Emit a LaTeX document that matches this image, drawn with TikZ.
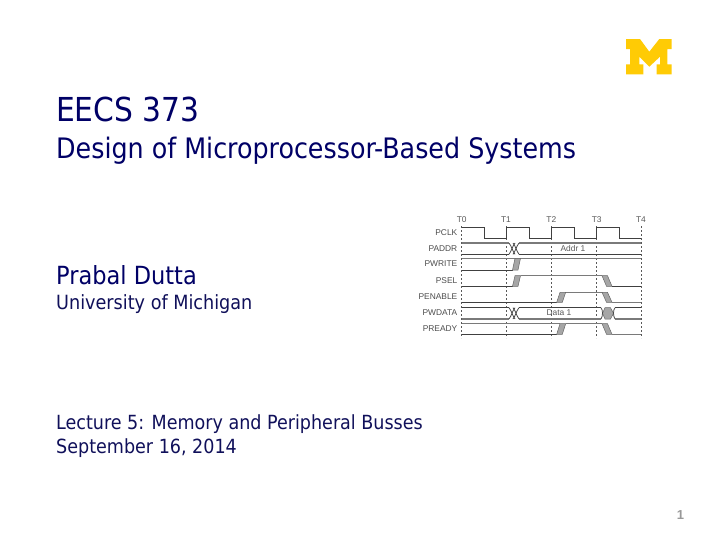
\documentclass[tikz,border=0pt]{standalone}
\usepackage{fontspec}
\setmainfont{DejaVu Sans Condensed}
\newfontfamily\labelfont{Liberation Sans}
\definecolor{titleblue}{HTML}{000066}
\definecolor{bodyblue}{HTML}{10105A}
\definecolor{wavefill}{HTML}{A6A6A6}
\definecolor{wavegray}{HTML}{7A7A7A}
\definecolor{maize}{HTML}{FFCB05}
\newcommand{\sigfont}{\labelfont\fontsize{8.4}{10}\selectfont}
\tikzset{
	titletext/.style={anchor=base west, inner sep=0pt, text=titleblue},
	bodytext/.style={anchor=base west, inner sep=0pt, text=bodyblue},
	signame/.style={anchor=base east, inner sep=0pt, text=black!70, font=\sigfont},
	tickname/.style={anchor=base, inner sep=0pt, text=black!65, font=\sigfont},
	wave/.style={line width=1pt, draw=black!75},
	busline/.style={line width=1.1pt, draw=wavegray},
	cross/.style={line width=.8pt, draw=black!70},
	slew/.style={fill=wavefill, draw=black!60, line width=.5pt},
	tickline/.style={line width=.7pt, draw=black!65, dash pattern=on 2pt off 2pt}
}
\begin{document}
\begin{tikzpicture}[x=1pt,y=-1pt]
	\useasboundingbox (0,0) rectangle (720,557);

	\node[titletext, font=\fontsize{33}{38}\selectfont] (course) at (56,121) {EECS 373};
	\node[titletext, font=\fontsize{28.2}{33}\selectfont] (subject) at (56,158) {Design of Microprocessor-Based Systems};
	\node[titletext, font=\fontsize{25}{30}\selectfont] (speaker) at (56,284) {Prabal Dutta};
	\node[bodytext, font=\fontsize{19.6}{23}\selectfont] (school) at (56,309) {University of Michigan};
	\node[bodytext, font=\fontsize{19.5}{23}\selectfont] (lecture) at (56,429) {Lecture 5: Memory and Peripheral Busses};
	\node[bodytext, font=\fontsize{19.5}{23}\selectfont] (date) at (56,453) {September 16, 2014};
	\node[anchor=base, inner sep=0pt, text=black!40, font=\labelfont\bfseries\fontsize{13}{15}\selectfont] (page) at (680.5,519) {1};

	% logo
	\fill[maize] (626,39) -- (640,39) -- (649.3,51.7) -- (659.3,39) -- (671.7,39) -- (671.7,49) -- (667.3,49) -- (667.3,64.3) -- (671.7,64.3) -- (671.7,74.3) -- (656.7,74.3) -- (656.7,64.3) -- (660,64.3) -- (660,56.7) -- (649.3,66.7) -- (639.3,56.7) -- (639.3,64.3) -- (643.3,64.3) -- (643.3,74.3) -- (626,74.3) -- (626,64.3) -- (630,64.3) -- (630,49) -- (626,49) -- cycle;

	% ticks
	\foreach \x/\t in {461.7/T0, 506/T1, 551.3/T2, 596.7/T3, 641/T4} {
		\draw[tickline] (\x,226) -- (\x,338);
		\node[tickname] (\t) at (\x,222) {\t};
	}

	% names
	\foreach \y/\s in {235.7/PCLK, 251.7/PADDR, 266/PWRITE, 283/PSEL, 299/PENABLE, 315.7/PWDATA, 331.7/PREADY}
		\node[signame] (\s) at (457.5,\y) {\s};

	% clock
	\draw[wave] (461.7,227) -- (484,227) -- (484,238.3) -- (506,238.3) -- (506,227) -- (529,227) -- (529,238.3) -- (551.3,238.3) -- (551.3,227) -- (574,227) -- (574,238.3) -- (596.7,238.3) -- (596.7,227) -- (619,227) -- (619,238.3) -- (641,238.3);

	% bus signals
	\draw[busline] (461.7,243) -- (509,243) (519,243) -- (641,243);
	\draw[wave] (461.7,254.3) -- (509,254.3) (519,254.3) -- (641,254.3);
	\foreach \x in {509,513} {
		\draw[cross] (\x,243) .. controls (\x+3,247) and (\x+3,250) .. (\x+6,254.3);
		\draw[cross] (\x+6,243) .. controls (\x+3,247) and (\x+3,250) .. (\x,254.3);
	}
	\node[tickname] (addr) at (573,251.7) {Addr 1};

	\draw[busline] (461.7,258.3) -- (641,258.3);
	\draw[wave] (461.7,270) -- (512.5,270);
	\draw[slew] (512.5,270) -- (518,270) -- (520.5,258.3) -- (515,258.3) -- cycle;

	\draw[wave] (461.7,286.3) -- (512.5,286.3);
	\draw[slew] (512.5,286.3) -- (518,286.3) -- (520.5,275.7) -- (515,275.7) -- cycle;
	\draw[busline] (520.5,275.7) -- (602,275.7);
	\draw[slew] (602,275.7) -- (607.5,275.7) -- (612,286.3) -- (606.5,286.3) -- cycle;
	\draw[wave] (612,286.3) -- (641,286.3);

	\draw[wave] (461.7,302.3) -- (556.7,302.3);
	\draw[slew] (556.7,302.3) -- (562.3,302.3) -- (565.7,292.3) -- (560,292.3) -- cycle;
	\draw[busline] (565.7,292.3) -- (602,292.3);
	\draw[slew] (602,292.3) -- (607.5,292.3) -- (612,302.3) -- (606.5,302.3) -- cycle;
	\draw[busline] (612,302.3) -- (641,302.3);

	\draw[wave] (461.7,307.7) -- (509,307.7) (519,307.7) -- (601,307.7) (615,307.7) -- (641,307.7);
	\draw[busline] (461.7,319) -- (509,319) (519,319) -- (601,319) (615,319) -- (641,319);
	\foreach \x in {509,513} {
		\draw[cross] (\x,307.7) .. controls (\x+3,311.5) and (\x+3,315) .. (\x+6,319);
		\draw[cross] (\x+6,307.7) .. controls (\x+3,311.5) and (\x+3,315) .. (\x,319);
	}
	\draw[slew] (605,307.7) -- (610.5,307.7) -- (613.5,313.3) -- (610.5,319) -- (605,319) -- (602.5,313.3) -- cycle;
	\draw[cross] (601,307.7) .. controls (603,310) and (603,316) .. (601,319);
	\draw[cross] (615,307.7) .. controls (613,310) and (613,316) .. (615,319);
	\node[tickname] (data) at (559,315.7) {Data 1};

	\draw[busline] (461.7,323.7) -- (560,323.7);
	\draw[wave] (461.7,334.3) -- (556.7,334.3);
	\draw[slew] (556.7,334.3) -- (562.3,334.3) -- (565.7,323.7) -- (560,323.7) -- cycle;
	\draw[busline] (565.7,323.7) -- (602,323.7);
	\draw[slew] (602,323.7) -- (607.5,323.7) -- (612,334.3) -- (606.5,334.3) -- cycle;
	\draw[busline] (612,334.3) -- (641,334.3);
\end{tikzpicture}
\end{document}
